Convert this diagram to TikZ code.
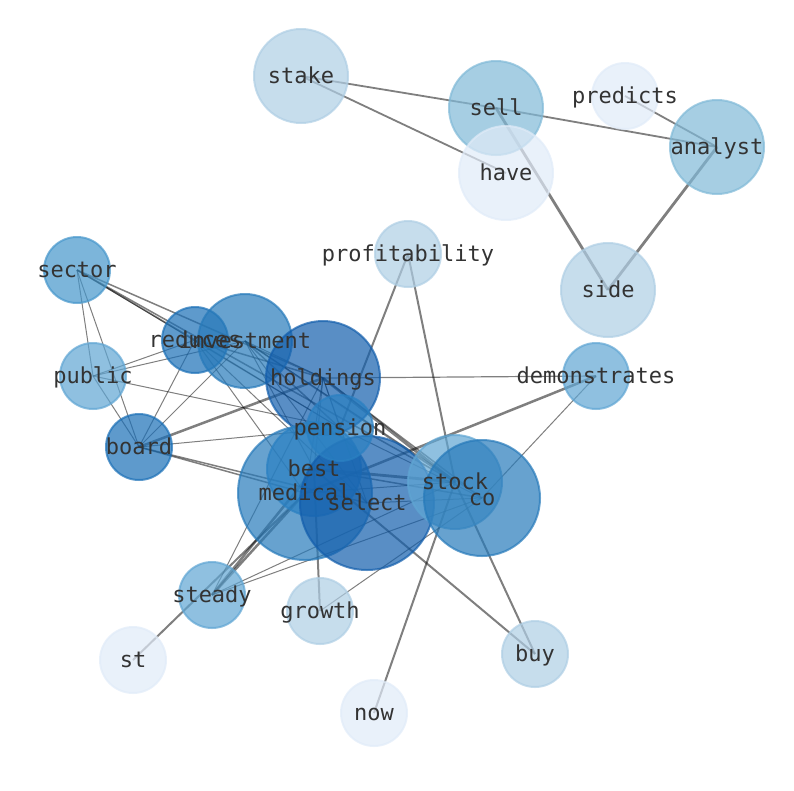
\documentclass[tikz,border=0pt]{standalone}
\usepackage{fontspec}
\setmonofont{DejaVu Sans Mono}
\begin{document}
\begin{tikzpicture}[x=1pt,y=-1pt,
  edge/.style={draw=black,draw opacity=0.5,line width=1pt},
  ew/.style={edge,line width=#1},
  vnode/.style={circle,inner sep=0pt,minimum size=#1,line width=2pt,fill opacity=0.7,draw opacity=0.7},
  lbl/.style={font=\ttfamily\fontsize{22}{26}\selectfont,text=black!80,inner sep=0pt,yshift=-2pt}]
\definecolor{cA}{HTML}{E0EBF8}
\definecolor{cB}{HTML}{AECEE4}
\definecolor{cC}{HTML}{80B9D7}
\definecolor{cD}{HTML}{5FA5D3}
\definecolor{cE}{HTML}{4596CB}
\definecolor{cF}{HTML}{277ABA}
\definecolor{cG}{HTML}{1A6FB6}
\definecolor{cH}{HTML}{135EAC}
\definecolor{cI}{HTML}{2A80C2}
\useasboundingbox (0,0) rectangle (794,790);
% positions
\coordinate (stake) at (301,76);
\coordinate (sell) at (496,108);
\coordinate (predicts) at (625,96);
\coordinate (analyst) at (717,147);
\coordinate (have) at (506,173);
\coordinate (profitability) at (408,254);
\coordinate (side) at (608,290);
\coordinate (sector) at (77,270);
\coordinate (public) at (93,376);
\coordinate (reduces) at (195,340);
\coordinate (investment) at (245,341);
\coordinate (holdings) at (323,378);
\coordinate (demonstrates) at (596,376);
\coordinate (pension) at (340,428);
\coordinate (board) at (139,447);
\coordinate (best) at (314,469);
\coordinate (medical) at (305,493);
\coordinate (select) at (367,503);
\coordinate (stock) at (455,482);
\coordinate (co) at (482,498);
\coordinate (steady) at (212,595);
\coordinate (growth) at (320,611);
\coordinate (buy) at (535,654);
\coordinate (st) at (133,660);
\coordinate (now) at (374,713);
% edges
\draw[ew=1.8pt] (stake) -- (sell);
\draw[ew=1.8pt] (sell) -- (analyst);
\draw[ew=1.8pt] (stake) -- (have);
\draw[ew=2.8pt] (sell) -- (side);
\draw[ew=1.8pt] (predicts) -- (analyst);
\draw[ew=2.8pt] (analyst) -- (side);
\draw[ew=2pt] (profitability) -- (pension);
\draw[ew=2pt] (profitability) -- (stock);
\draw[ew=1.2pt] (holdings) -- (demonstrates);
\draw[ew=2.5pt] (demonstrates) -- (medical);
\draw[ew=1pt] (demonstrates) -- (co);
\draw[ew=1pt] (growth) -- (co);
\draw[ew=2pt] (growth) -- (best);
\draw[ew=2.8pt] (holdings) -- (stock);
\draw[ew=2.8pt] (best) -- (stock);
\draw[ew=2pt] (best) -- (buy);
\draw[ew=2pt] (stock) -- (buy);
\draw[ew=2pt] (now) -- (stock);
\draw[ew=2pt] (st) -- (medical);
\draw[ew=2.5pt] (steady) -- (medical);
\draw[ew=2.5pt] (steady) -- (best);
\draw[ew=1pt] (steady) -- (holdings);
\draw[ew=1pt] (steady) -- (co);
\draw[ew=1pt] (steady) -- (stock);
\draw[ew=1pt] (sector) -- (public);
\draw[ew=1pt] (sector) -- (board);
\draw[ew=1.5pt] (sector) -- (reduces);
\draw[ew=1.5pt] (sector) -- (holdings);
\draw[ew=1pt] (sector) -- (pension);
\draw[ew=1.5pt] (sector) -- (stock);
\draw[ew=1pt] (public) -- (reduces);
\draw[ew=1pt] (public) -- (investment);
\draw[ew=1pt] (public) -- (pension);
\draw[ew=1pt] (public) -- (board);
\draw[ew=1pt] (board) -- (reduces);
\draw[ew=1pt] (board) -- (investment);
\draw[ew=2.5pt] (board) -- (holdings);
\draw[ew=1pt] (board) -- (pension);
\draw[ew=1.5pt] (board) -- (select);
\draw[ew=1.5pt] (board) -- (medical);
\draw[ew=1pt] (reduces) -- (pension);
\draw[ew=1pt] (reduces) -- (select);
\draw[ew=1.5pt] (reduces) -- (holdings);
\draw[ew=1pt] (reduces) -- (medical);
\draw[ew=1.5pt] (investment) -- (stock);
\draw[ew=1.5pt] (investment) -- (pension);
\draw[ew=1pt] (investment) -- (holdings);
\draw[ew=1pt] (investment) -- (best);
\draw[ew=1pt] (investment) -- (select);
\draw[ew=1pt] (investment) -- (co);
\draw[ew=1pt] (holdings) -- (pension);
\draw[ew=1pt] (holdings) -- (best);
\draw[ew=1pt] (holdings) -- (medical);
\draw[ew=1pt] (holdings) -- (select);
\draw[ew=1.5pt] (holdings) -- (co);
\draw[ew=1pt] (pension) -- (co);
\draw[ew=1.5pt] (best) -- (co);
\draw[ew=1pt] (select) -- (co);
\draw[ew=1pt] (medical) -- (stock);
% nodes
\node[vnode=94pt,fill=cB,draw=cB] (stake-c) at (stake) {};
\node[vnode=94pt,fill=cC,draw=cC] (sell-c) at (sell) {};
\node[vnode=66pt,fill=cA,draw=cA] (predicts-c) at (predicts) {};
\node[vnode=94pt,fill=cC,draw=cC] (analyst-c) at (analyst) {};
\node[vnode=94pt,fill=cA,draw=cA] (have-c) at (have) {};
\node[vnode=66pt,fill=cB,draw=cB] (profitability-c) at (profitability) {};
\node[vnode=94pt,fill=cB,draw=cB] (side-c) at (side) {};
\node[vnode=66pt,fill=cE,draw=cE] (sector-c) at (sector) {};
\node[vnode=66pt,fill=cD,draw=cD] (public-c) at (public) {};
\node[vnode=66pt,fill=cG,draw=cG] (reduces-c) at (reduces) {};
\node[vnode=94pt,fill=cF,draw=cF] (investment-c) at (investment) {};
\node[vnode=114pt,fill=cH,draw=cH] (holdings-c) at (holdings) {};
\node[vnode=66pt,fill=cD,draw=cD] (demonstrates-c) at (demonstrates) {};
\node[vnode=66pt,fill=cG,draw=cG] (board-c) at (board) {};
\node[vnode=134pt,fill=cF,draw=cF] (medical-c) at (medical) {};
\node[vnode=94pt,fill=cI,draw=cI] (best-c) at (best) {};
\node[vnode=134pt,fill=cH,draw=cH] (select-c) at (select) {};
\node[vnode=66pt,fill=cI,draw=cI] (pension-c) at (pension) {};
\node[vnode=94pt,fill=cD,draw=cD] (stock-c) at (stock) {};
\node[vnode=116pt,fill=cF,draw=cF] (co-c) at (co) {};
\node[vnode=66pt,fill=cD,draw=cD] (steady-c) at (steady) {};
\node[vnode=66pt,fill=cB,draw=cB] (growth-c) at (growth) {};
\node[vnode=66pt,fill=cB,draw=cB] (buy-c) at (buy) {};
\node[vnode=66pt,fill=cA,draw=cA] (st-c) at (st) {};
\node[vnode=66pt,fill=cA,draw=cA] (now-c) at (now) {};
% labels
\foreach \n in {stake,sell,predicts,analyst,have,profitability,side,sector,public,reduces,investment,holdings,demonstrates,board,medical,best,select,pension,stock,co,steady,growth,buy,st,now}{
  \node[lbl] (\n-t) at (\n) {\strut\n};
}
\end{tikzpicture}
\end{document}
